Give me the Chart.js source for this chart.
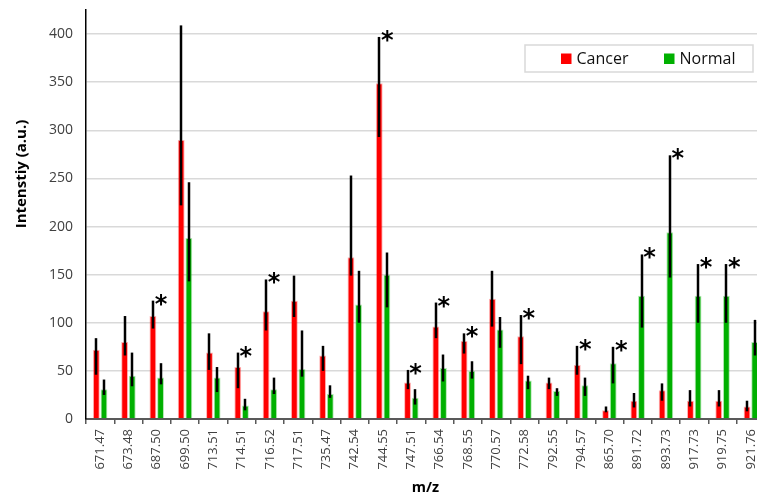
<!DOCTYPE html>
<html>
<head>
<meta charset="utf-8">
<script src="https://cdn.jsdelivr.net/npm/chart.js@4/dist/chart.umd.min.js"></script>
<style>
  html, body { margin: 0; padding: 0; overflow: hidden; background: #fff; }
  #wrap { width: 768px; height: 494px; }
</style>
</head>
<body>
<div id="wrap"><canvas id="chart" width="768" height="494"></canvas></div>
<script>
// m/z peaks
const mzLabels = ['671.47','673.48','687.50','699.50','713.51','714.51','716.52','717.51','735.47','742.54','744.55','747.51',
                  '766.54','768.55','770.57','772.58','792.55','794.57','865.70','891.72','893.73','917.73','919.75','921.76'];

// Mean intensity with error range (upper / lower ends of each error bar)
const cancerMean = [72, 80, 107, 290, 69, 54, 112, 123, 66, 168, 349, 38, 96, 81, 125, 86, 38, 56, 9, 19, 30, 19, 19, 13];
const cancerHigh = [84, 107, 123, 409, 89, 69, 145, 149, 76, 253, 397, 51, 121, 89, 154, 108, 43, 76, 13, 27, 37, 30, 30, 19];
const cancerLow  = [46, 66, 94, 222, 51, 32, 92, 106, 50, 149, 293, 31, 84, 68, 96, 57, 31, 46, 7, 12, 19, 13, 13, 8];

const normalMean = [31, 45, 43, 188, 43, 14, 31, 52, 26, 119, 150, 22, 53, 50, 93, 40, 29, 35, 58, 128, 194, 128, 128, 80];
const normalHigh = [41, 69, 58, 246, 54, 21, 43, 92, 35, 154, 173, 31, 67, 60, 106, 45, 32, 43, 75, 171, 274, 161, 161, 103];
const normalLow  = [25, 34, 36, 143, 28, 9, 26, 44, 22, 100, 116, 15, 39, 42, 74, 31, 24, 24, 37, 95, 147, 100, 100, 66];

// Which group is marked as significantly higher (0 = Cancer, 1 = Normal, -1 = none)
const significant = [-1, -1, 0, -1, -1, 0, 0, -1, -1, -1, 0, 0, 0, 0, -1, 0, -1, 0, 1, 1, 1, 1, 1, -1];

const seriesNames = ['Cancer', 'Normal'];
const yTicks = [0, 50, 100, 150, 200, 250, 300, 350, 400];

const RED = '#ff0000';
const GREEN = '#00b000';
const SANS = '"Open Sans", "Noto Sans", sans-serif';

// Error bars and significance asterisks
const errorBarPlugin = {
  id: 'errorBars',
  afterDatasetsDraw(chart) {
    const ctx = chart.ctx;
    const y = chart.scales.y;
    const ranges = [[cancerLow, cancerHigh], [normalLow, normalHigh]];
    ctx.save();
    ctx.strokeStyle = '#000';
    ctx.lineWidth = 2.5;
    ranges.forEach(([lo, hi], d) => {
      chart.getDatasetMeta(d).data.forEach((bar, i) => {
        const x = Math.round(bar.x);
        ctx.beginPath();
        ctx.moveTo(x, y.getPixelForValue(lo[i]));
        ctx.lineTo(x, y.getPixelForValue(hi[i]));
        ctx.stroke();
      });
    });

    ctx.fillStyle = '#000';
    ctx.font = 'bold 24px "DejaVu Sans", sans-serif';
    ctx.textAlign = 'center';
    ctx.textBaseline = 'alphabetic';
    const m = ctx.measureText('*');
    const shift = (m.actualBoundingBoxAscent - m.actualBoundingBoxDescent) / 2;
    significant.forEach((d, i) => {
      if (d < 0) return;
      const bar = chart.getDatasetMeta(d).data[i];
      const hi = d === 0 ? cancerHigh[i] : normalHigh[i];
      ctx.fillText('*', bar.x + 8, y.getPixelForValue(hi) - 1 + shift);
    });
    ctx.restore();
  }
};

// Axis titles and boxed legend
const annotationPlugin = {
  id: 'annotations',
  afterDraw(chart) {
    const ctx = chart.ctx;
    const area = chart.chartArea;
    ctx.save();
    ctx.fillStyle = '#000';
    ctx.textAlign = 'center';
    ctx.textBaseline = 'middle';

    ctx.font = 'bold 15px ' + SANS;
    ctx.save();
    ctx.translate(22, 174);
    ctx.rotate(-Math.PI / 2);
    ctx.fillText('Intenstiy (a.u.)', 0, 0);
    ctx.restore();

    ctx.font = 'bold 14.5px ' + SANS;
    ctx.fillText('m/z', (area.left + area.right) / 2, 488);

    // legend
    ctx.fillStyle = '#fff';
    ctx.fillRect(525, 45, 228, 27);
    ctx.strokeStyle = '#d9d9d9';
    ctx.lineWidth = 1.5;
    ctx.strokeRect(525, 45, 228, 27);
    const items = [[561, RED], [664, GREEN]];
    ctx.font = '16px ' + SANS;
    ctx.textAlign = 'left';
    items.forEach(([x, col], k) => {
      ctx.fillStyle = col;
      ctx.fillRect(x, 53.5, 10.5, 10.5);
      ctx.fillStyle = '#111';
      ctx.fillText(seriesNames[k], x + 15.5, 59);
    });
    ctx.restore();
  }
};

new Chart(document.getElementById('chart'), {
  type: 'bar',
  data: {
    labels: mzLabels,
    datasets: [
      { label: seriesNames[0], data: cancerMean, backgroundColor: RED,
        borderColor: 'rgba(255,0,0,0.3)', borderWidth: 1,
        categoryPercentage: 0.54, barPercentage: 0.9 },
      { label: seriesNames[1], data: normalMean, backgroundColor: GREEN,
        borderColor: 'rgba(0,176,0,0.3)', borderWidth: 1,
        categoryPercentage: 0.54, barPercentage: 0.9 }
    ]
  },
  options: {
    responsive: false,
    animation: false,
    events: [],
    layout: { padding: { top: 10, right: 3, left: 0, bottom: 0 }, autoPadding: false },
    plugins: { legend: { display: false }, tooltip: { enabled: false } },
    scales: {
      x: {
        offset: true,
        grid: { display: true, drawOnChartArea: false, drawTicks: true, tickLength: 5,
                color: '#595959', lineWidth: 1.5, offset: true },
        border: { color: '#595959', width: 2 },
        ticks: { autoSkip: false, minRotation: 90, maxRotation: 90, padding: 5,
                 color: '#404040', font: { family: SANS, size: 13 } },
        afterFit(s) { s.height = 75; s.paddingLeft = 0; s.paddingRight = 0; }
      },
      y: {
        min: 0, max: 425,
        afterBuildTicks(s) { s.ticks = yTicks.map(v => ({ value: v })); },
        ticks: { padding: 13, color: '#404040', font: { family: SANS, size: 14 } },
        grid: { color: '#d9d9d9', lineWidth: 1.5, drawTicks: false },
        border: { color: '#000', width: 1.5 },
        afterFit(s) { s.width = 86; s.paddingTop = 0; s.paddingBottom = 0; }
      }
    }
  },
  plugins: [errorBarPlugin, annotationPlugin]
});
</script>
</body>
</html>
